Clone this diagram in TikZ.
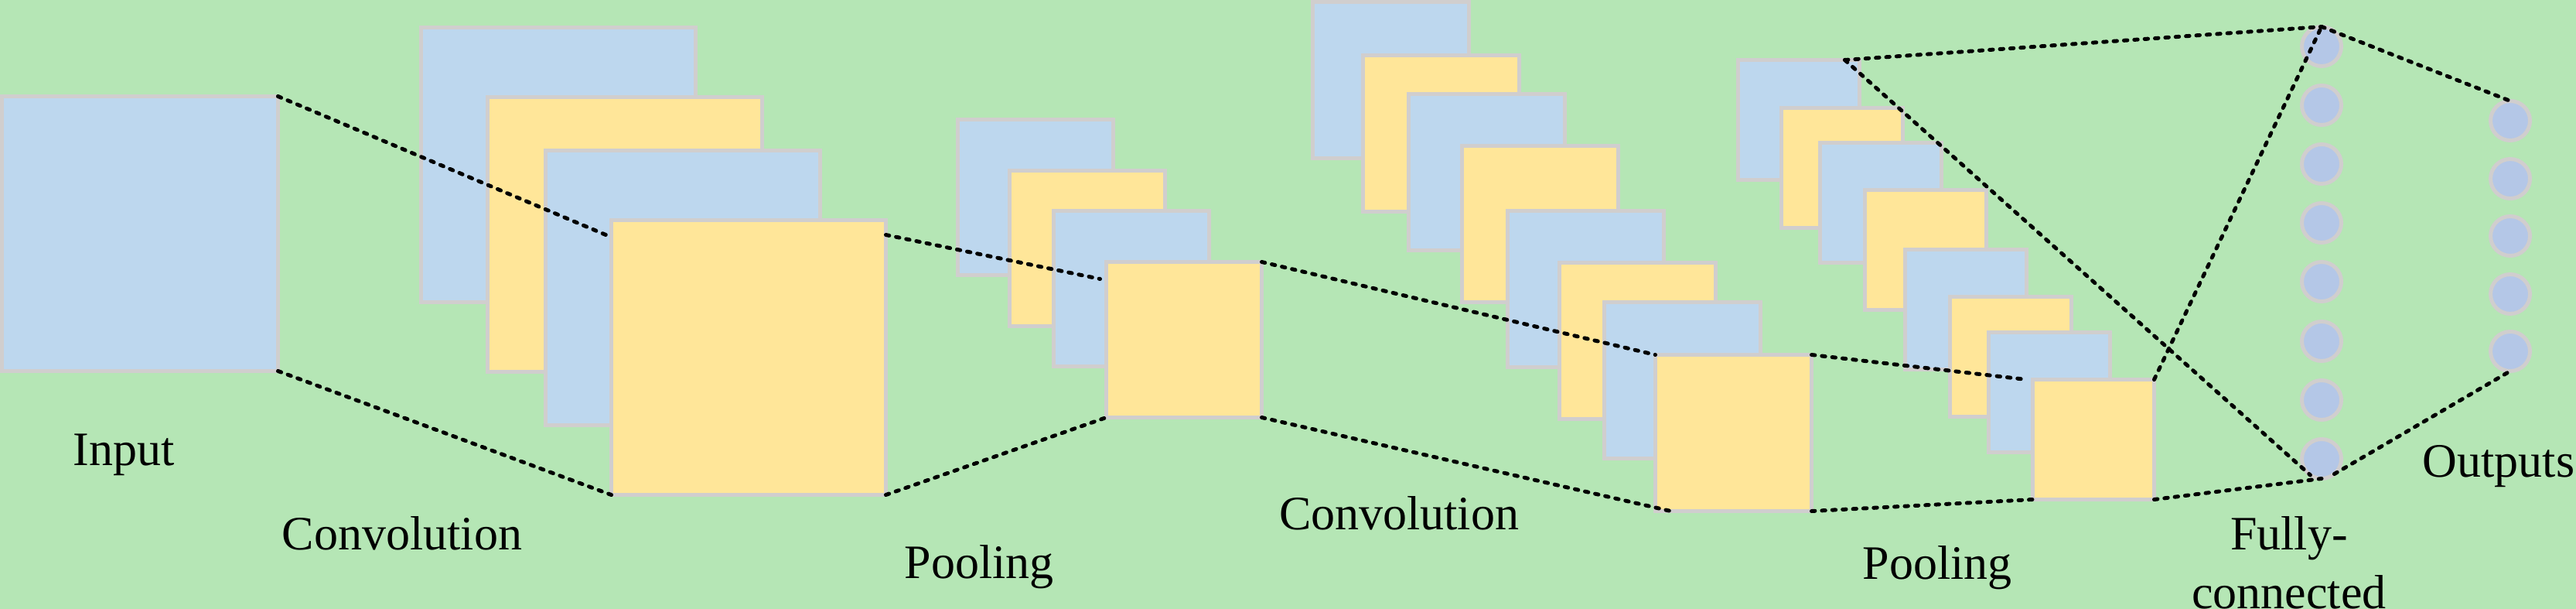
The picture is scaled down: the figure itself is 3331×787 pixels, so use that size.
\documentclass[tikz,border=0pt]{standalone}
\usepackage{fontspec}
\setmainfont{Liberation Serif}
\usetikzlibrary{calc}
\definecolor{bg}{RGB}{181,230,181}
\definecolor{fmblue}{RGB}{189,215,238}
\definecolor{fmyellow}{RGB}{255,230,153}
\definecolor{nodeblue}{RGB}{180,199,231}
\definecolor{edgegray}{RGB}{208,206,206}
\begin{document}
\begin{tikzpicture}[x=0.5pt,y=-0.5pt,
 fm/.style={draw=edgegray, line width=2.5pt, inner sep=0pt, outer sep=0pt, anchor=north west},
 bl/.style={fm, fill=fmblue},
 yl/.style={fm, fill=fmyellow},
 sizeA/.style={minimum width=177.5pt, minimum height=177.5pt},
 sizeB/.style={minimum width=100.5pt, minimum height=100.5pt},
 sizeC/.style={minimum width=78.5pt, minimum height=77.5pt},
 neuron/.style={circle, draw=edgegray, fill=nodeblue, line width=2.5pt, minimum size=25.5pt, inner sep=0pt, outer sep=0pt},
 link/.style={draw=black, line width=2.5pt, line cap=round, dash pattern=on 2.2pt off 4.5pt},
 lbl/.style={font=\fontsize{31pt}{38pt}\selectfont, anchor=base, inner sep=0pt}
]
\path[use as bounding box, fill=bg] (0,0) rectangle (3331,787);

% input
\node[bl, sizeA, minimum width=178.5pt] (inp) at (2.5,124.5) {};

% convolution 1
\node[bl, sizeA] (c1a) at (544.5,35.5) {};
\node[yl, sizeA] (c1b) at (630.5,125.5) {};
\node[bl, sizeA] (c1c) at (705.5,194.5) {};
\node[yl, sizeA] (c1d) at (790.5,284.5) {};

% pooling 1
\node[bl, sizeB] (p1a) at (1238.5,154.5) {};
\node[yl, sizeB] (p1b) at (1305.5,220.5) {};
\node[bl, sizeB] (p1c) at (1362.5,272.5) {};
\node[yl, sizeB] (p1d) at (1430.5,338.5) {};

% convolution 2
\foreach \i/\x/\y/\s in {1/1695/0/bl, 2/1760/69/yl, 3/1819/119/bl, 4/1888/186/yl,
                         5/1947/270/bl, 6/2014/337/yl, 7/2072/388/bl, 8/2138/456/yl}
  \node[\s, sizeB, minimum width=101pt, minimum height=101pt] (c2-\i) at (\x+2.5,\y+2.5) {};

% pooling 2
\foreach \i/\x/\y/\s in {1/2245/75/bl, 2/2301/137/yl, 3/2351/182/bl, 4/2409/243/yl,
                         5/2461/320/bl, 6/2519/381/yl, 7/2569/427/bl, 8/2626/488/yl}
  \node[\s, sizeC] (p2-\i) at (\x+2.5,\y+2.5) {};

% fully connected
\foreach \i/\y in {1/60, 2/136, 3/212, 4/288, 5/364, 6/441, 7/517, 8/593}
  \node[neuron] (fc\i) at (3002,\y) {};

% outputs
\foreach \i/\y in {1/156, 2/231, 3/305, 4/380, 5/454}
  \node[neuron] (o\i) at (3246,\y) {};

% connectors
\draw[link] (inp.north east) -- ([yshift=-11pt]c1d.north west);
\draw[link] (inp.south east) -- (c1d.south west);
\draw[link] ([yshift=-9.5pt]c1d.north east) -- ([shift={(-4pt,-11pt)}]p1d.north west);
\draw[link] (c1d.south east) -- (p1d.south west);
\draw[link] (p1d.north east) -- (c2-8.north west);
\draw[link] (p1d.south east) -- ([xshift=10pt]c2-8.south west);
\draw[link] (c2-8.north east) -- ([xshift=-4pt]p2-8.north west);
\draw[link] (c2-8.south east) -- (p2-8.south west);
\coordinate (p2top) at ([xshift=-9.5pt]p2-1.north east);
\draw[link] (p2top) -- (fc1.north);
\draw[link] (p2top) -- (fc8.-125);
\draw[link] (p2-8.north east) -- (fc1.north);
\draw[link] (p2-8.south east) -- (fc8.south);
\draw[link] (fc1.north) -- (o1.north);
\draw[link] (fc8.-50) -- (o5.south);

% labels
\node[lbl] (lin) at (160,601) {Input};
\node[lbl] (lconv1) at (520,710) {Convolution};
\node[lbl] (lpool1) at (1266,747) {Pooling};
\node[lbl] (lconv2) at (1809,684) {Convolution};
\node[lbl] (lpool2) at (2505,748) {Pooling};
\node[lbl] (lfc1) at (2960,710) {Fully-};
\node[lbl] (lfc2) at (2960,786) {connected};
\node[lbl] (lout) at (3231,616) {Outputs};
\end{tikzpicture}
\end{document}
